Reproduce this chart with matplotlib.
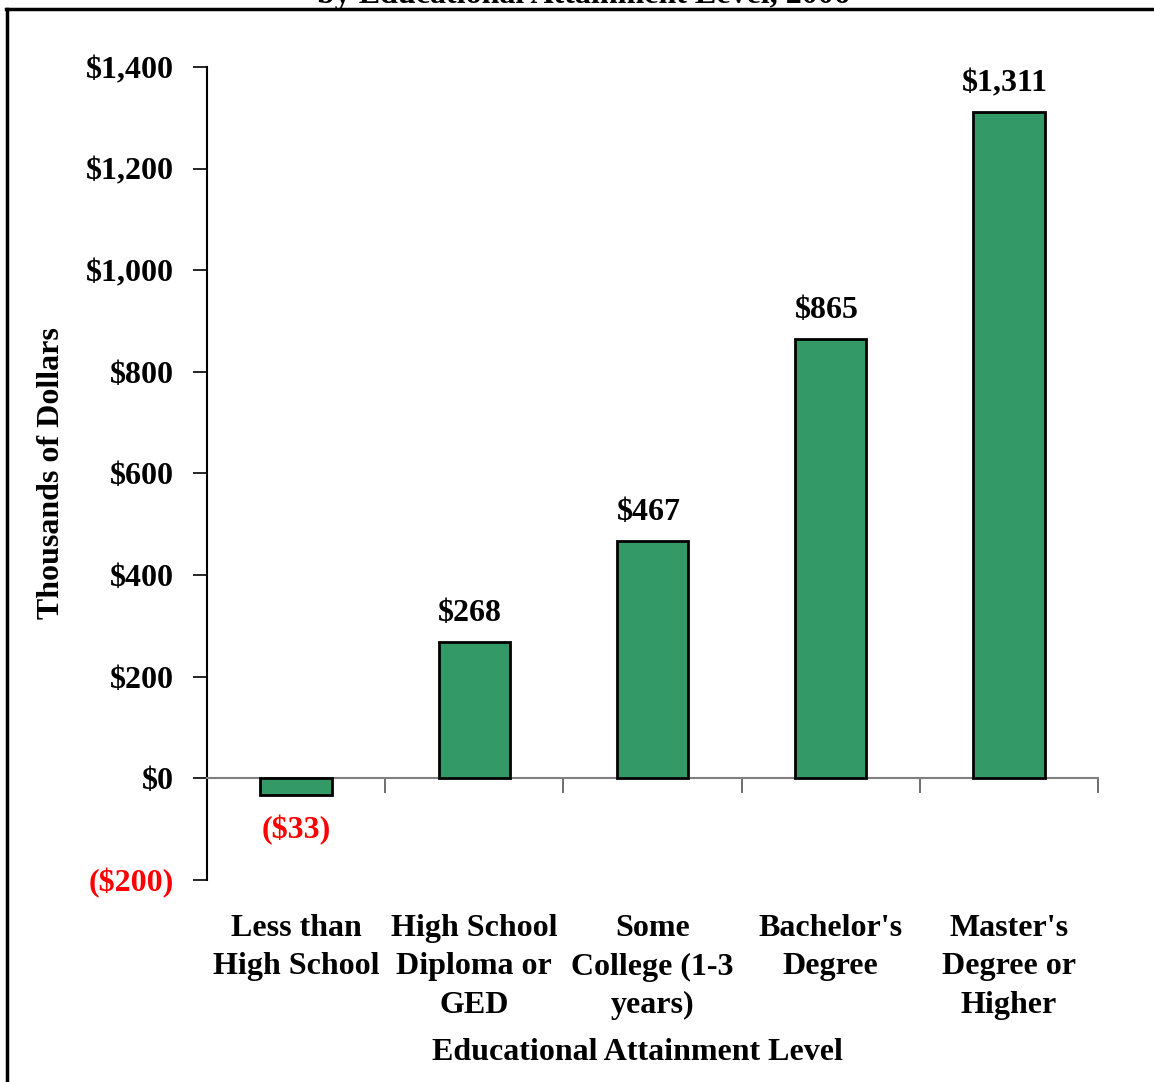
import matplotlib.pyplot as plt
from matplotlib.lines import Line2D
from matplotlib.transforms import blended_transform_factory
from matplotlib.ticker import FuncFormatter

plt.rcParams['font.family'] = ['Liberation Serif', 'DejaVu Serif']
plt.rcParams['font.weight'] = 'bold'

categories = ["Less than\nHigh School", "High School\nDiploma or\nGED",
              "Some\nCollege (1-3\nyears)", "Bachelor's\nDegree",
              "Master's\nDegree or\nHigher"]
values = [-33, 268, 467, 865, 1311]
yticks = [-200, 0, 200, 400, 600, 800, 1000, 1200, 1400]

W, H = 1154, 1082
fs = 23
green = '#339966'

fig = plt.figure(figsize=(W / 100, H / 100), dpi=100)
ax = fig.add_axes([207 / W, 1 - 880 / H, (1098 - 207) / W, (880 - 67) / H])

x = [i + 0.5 for i in range(len(values))]
ax.bar(x, values, width=0.4, color=green, edgecolor='black', linewidth=2, zorder=3)

ax.set_xlim(0, len(values))
ax.set_ylim(-200, 1400)


def money(v, pos=None):
    return f"(${abs(v):,.0f})" if v < 0 else f"${v:,.0f}"


ax.set_yticks(yticks)
ax.yaxis.set_major_formatter(FuncFormatter(money))
ax.tick_params(axis='y', direction='out', length=10, width=1.2, pad=14,
               labelsize=fs, color='black')
for lbl, v in zip(ax.get_yticklabels(), yticks):
    lbl.set_fontweight('bold')
    if v < 0:
        lbl.set_color('red')

# category boundary ticks hanging under the zero line
ax.set_xticks(range(1, len(values) + 1))
ax.set_xticklabels([])
ax.tick_params(axis='x', direction='out', length=11, width=1.2, color='#555555')

for s in ['top', 'right']:
    ax.spines[s].set_visible(False)
ax.spines['left'].set_linewidth(1.5)
ax.spines['bottom'].set_position(('data', 0))
ax.spines['bottom'].set_color('#808080')
ax.spines['bottom'].set_linewidth(1.5)

# value labels
for xi, v in zip(x, values):
    if v >= 0:
        ax.annotate(money(v), (xi, v), xytext=(-4, 14), textcoords='offset pixels',
                    ha='center', va='bottom', fontsize=fs, fontweight='bold')
    else:
        ax.annotate(money(v), (xi, v), xytext=(0, -20), textcoords='offset pixels',
                    ha='center', va='top', fontsize=fs, fontweight='bold', color='red')

# category names below the plot area
trans = blended_transform_factory(ax.transData, fig.transFigure)
for xi, name in zip(x, categories):
    ax.text(xi, 1 - 914 / H, name, transform=trans, ha='center', va='top',
            fontsize=fs, fontweight='bold', linespacing=1.43)

fig.text(637 / W, 1 - 1053 / H, "Educational Attainment Level", ha='center', va='center',
         fontsize=fs, fontweight='bold')
fig.text(52 / W, 1 - 473 / H, "Thousands of Dollars", rotation=90, ha='center', va='center',
         fontsize=fs, fontweight='bold')

# title sits mostly above the visible area
fig.text(583 / W, 1 - 3 / H, "by Educational Attainment Level, 2006", ha='center',
         va='baseline', fontsize=fs, fontweight='bold')

# outer frame
fig.add_artist(Line2D([7 / W, 7 / W], [0, 1 - 9 / H], transform=fig.transFigure,
                      color='black', linewidth=2.5))
fig.add_artist(Line2D([6 / W, 1.01], [1 - 9 / H, 1 - 9 / H], transform=fig.transFigure,
                      color='black', linewidth=2.5))

fig.savefig('out.png', dpi=100)
